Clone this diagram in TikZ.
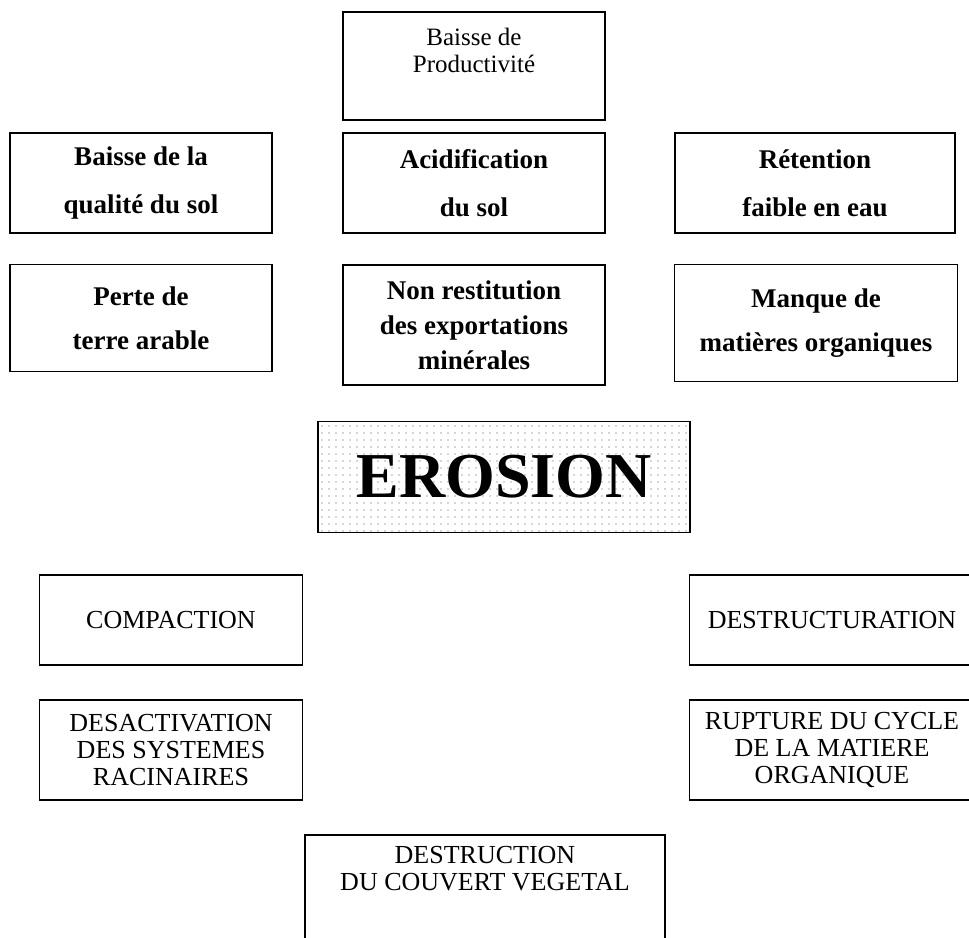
\documentclass[tikz,border=0pt]{standalone}
\usepackage{fontspec}
\setmainfont{Liberation Serif}
\usetikzlibrary{positioning, patterns.meta}
\tikzstyle{cadre} = [rectangle, draw=black, line width=1.5pt, align=center, inner sep=0pt]
\tikzstyle{titre} = [cadre, minimum width=262pt, minimum height=108pt, font=\fontsize{25pt}{27pt}\selectfont]
\tikzstyle{effet} = [cadre, minimum width=262pt, font=\bfseries\fontsize{27pt}{48pt}\selectfont]
\tikzstyle{cause} = [cadre, minimum width=263pt, font=\fontsize{26pt}{27pt}\selectfont]
\tikzstyle{centre} = [cadre, minimum width=372pt, minimum height=111pt, pattern={Dots[distance=7pt, radius=0.7pt]}, pattern color=black!70, font=\bfseries\fontsize{64pt}{64pt}\selectfont]

\begin{document}
\begin{tikzpicture}[x=1pt, y=-1pt]
            \useasboundingbox (0,0) rectangle (969,937);
            % consequences
            \node (prod) [titre, text depth=32pt] at (474,66) {Baisse de\\Productivité};
            \node (qual) [effet, minimum height=100pt] at (141,183) {Baisse de la\\qualité du sol};
            \node (acid) [effet, minimum height=100pt] at (474,183) {Acidification\\du sol};
            \node (ret) [effet, minimum height=100pt, minimum width=280pt] at (815,183) {Rétention\\faible en eau};
            \node (perte) [effet, minimum height=107pt, font=\bfseries\fontsize{27pt}{44pt}\selectfont] at (141,318) {Perte de\\terre arable};
            \node (nonrest) [effet, minimum height=120pt, font=\bfseries\fontsize{27pt}{35pt}\selectfont] at (474,325) {Non restitution\\des exportations\\minérales};
            \node (manque) [effet, minimum height=117pt, minimum width=283pt, font=\bfseries\fontsize{27pt}{44pt}\selectfont] at (816,323) {Manque de\\matières organiques};

            \node (erosion) [centre] at (504,477) {EROSION};

            % causes
            \node (compact) [cause, minimum height=90pt] at (171,620) {COMPACTION};
            \node (destruct) [cause, minimum height=90pt, minimum width=285pt] at (832,620) {DESTRUCTURATION};
            \node (desact) [cause, minimum height=100pt] at (171,750) {DESACTIVATION\\DES SYSTEMES\\RACINAIRES};
            \node (rupture) [cause, minimum height=100pt, minimum width=285pt] at (832,750) {RUPTURE DU CYCLE\\DE LA MATIERE\\ORGANIQUE};
            \node (couvert) [cause, minimum height=110pt, minimum width=360pt, text depth=44pt] at (485,890) {DESTRUCTION\\DU COUVERT VEGETAL};
        \end{tikzpicture}
\end{document}
